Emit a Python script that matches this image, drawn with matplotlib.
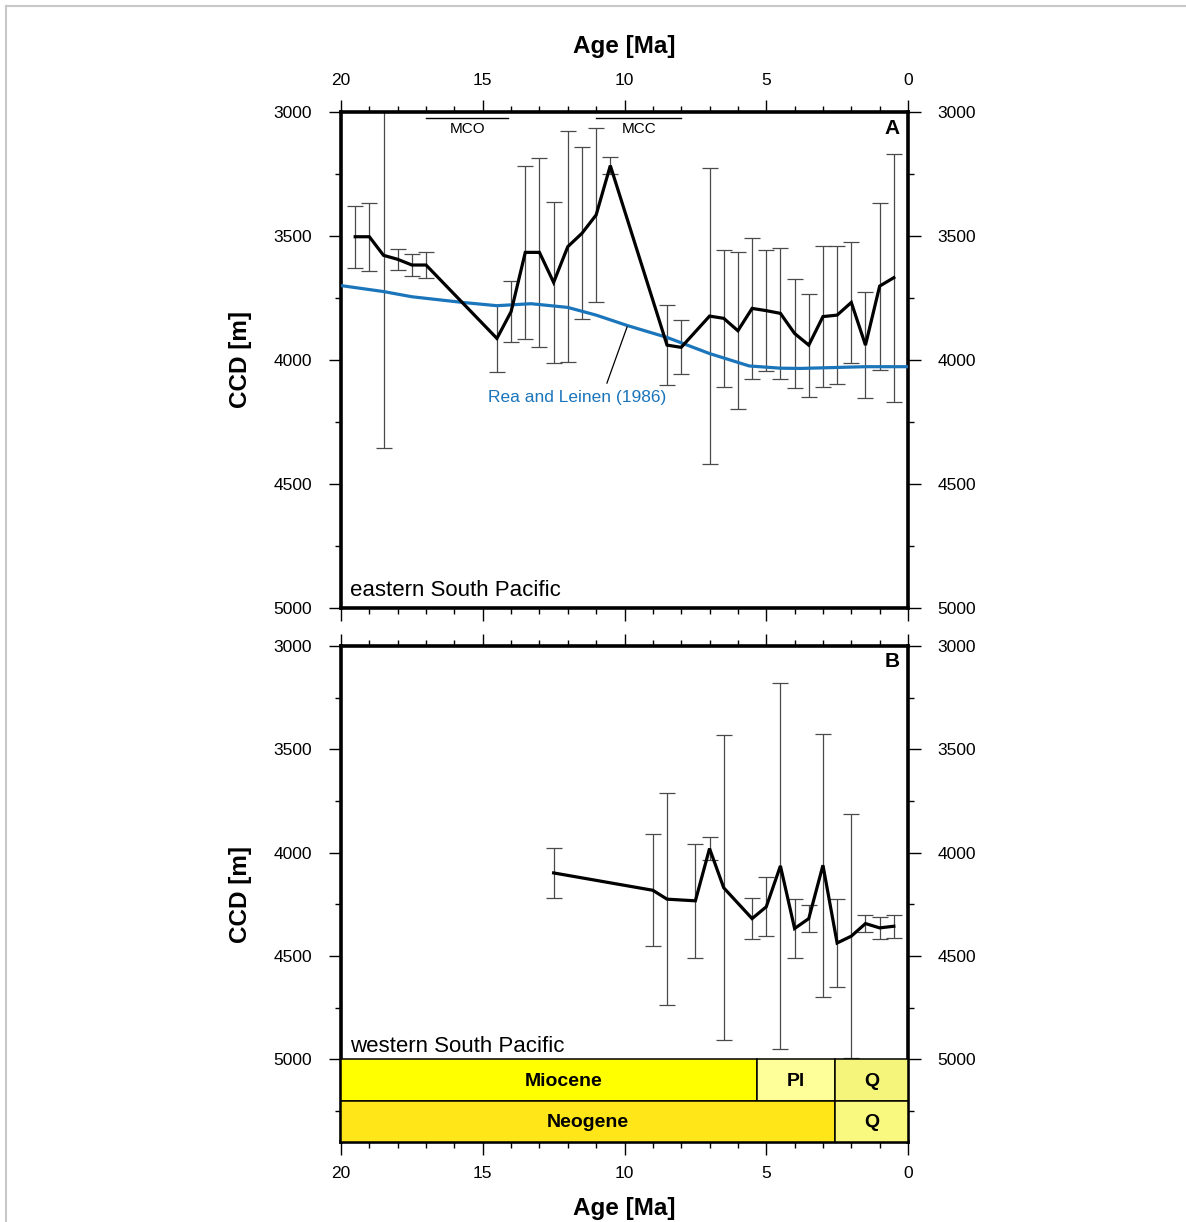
import matplotlib
matplotlib.use("Agg")
import matplotlib.pyplot as plt
from matplotlib.ticker import FixedLocator, MultipleLocator
from matplotlib.patches import Rectangle
from matplotlib.lines import Line2D

plt.rcParams['font.family'] = ['Liberation Sans', 'DejaVu Sans']

# ---- eastern South Pacific CCD reconstruction ----
east_age = [19.5, 19.0, 18.5, 18.0, 17.5, 17.0, 14.5, 14.0, 13.5, 13.0, 12.5, 12.0,
            11.5, 11.0, 10.5, 8.5, 8.0, 7.0, 6.5, 6.0, 5.5, 5.0, 4.5, 4.0, 3.5, 3.0,
            2.5, 2.0, 1.5, 1.0, 0.5]
east_ccd = [3503, 3503, 3578, 3594, 3617, 3617, 3913, 3805, 3566, 3566, 3687, 3543,
            3489, 3415, 3216, 3940, 3949, 3823, 3832, 3882, 3792, 3801, 3812, 3893,
            3940, 3825, 3819, 3768, 3940, 3702, 3668]
east_err = [125, 137, 778, 42, 45, 54, 135, 122, 350, 381, 325, 467,
            347, 351, 33, 160, 109, 597, 276, 316, 283, 245, 265, 220,
            208, 284, 277, 245, 215, 337, 500]

# ---- Rea and Leinen (1986) reference curve ----
rl_age = [20.0, 18.5, 17.5, 15.7, 14.5, 13.3, 12.0, 11.0, 9.9, 8.5, 7.0, 5.6, 4.5, 3.8, 1.5, 0.0]
rl_ccd = [3700, 3724, 3745, 3768, 3781, 3773, 3788, 3819, 3861, 3909, 3974, 4024, 4033, 4034, 4027, 4027]

# ---- western South Pacific CCD reconstruction ----
west_age = [12.5, 9.0, 8.5, 7.5, 7.0, 6.5, 5.5, 5.0, 4.5, 4.0, 3.5, 3.0, 2.5, 2.0, 1.5, 1.0, 0.5]
west_ccd = [4098, 4182, 4225, 4233, 3980, 4170, 4319, 4262, 4064, 4367, 4319, 4061,
            4437, 4404, 4343, 4364, 4356]
west_err = [123, 270, 512, 275, 55, 738, 100, 143, 885, 141, 67, 637, 213, 590, 40, 52, 55]

# ---- climate events ----
event_names = ["MCO", "MCC"]
event_start = [17.0, 11.0]
event_end = [14.1, 8.0]

# ---- geological time scale (two rows) ----
epoch_names = ["Miocene", "Pl", "Q"]
epoch_old = [20.0, 5.333, 2.58]
epoch_young = [5.333, 2.58, 0.0]
epoch_label_age = [12.13, 3.96, 1.29]
epoch_colors = ["#FFFF00", "#FFFF99", "#F5F57C"]
period_names = ["Neogene", "Q"]
period_old = [20.0, 2.58]
period_young = [2.58, 0.0]
period_label_age = [11.29, 1.29]
period_colors = ["#FFE619", "#F9F97F"]

age_ticks = [20, 15, 10, 5, 0]
ccd_ticks = [3000, 3500, 4000, 4500, 5000]

W, H = 1186, 1222
fig = plt.figure(figsize=(W / 100, H / 100), dpi=100)

# thin grey frame along top and left edges
fig.add_artist(Line2D([6 / W, 1.0], [1 - 6 / H, 1 - 6 / H], transform=fig.transFigure,
                      color="#c8c8c8", lw=1.5))
fig.add_artist(Line2D([6 / W, 6 / W], [0.0, 1 - 6 / H], transform=fig.transFigure,
                      color="#c8c8c8", lw=1.5))

left = 341 / W
width = 567 / W
height = 496 / H
axA = fig.add_axes([left, 1 - 608 / H, width, height])
axB = fig.add_axes([left, 1 - 1142 / H, width, height])

BLUE = "#1b75bb"
ECOL = "#4a4a4a"


def style_axes(ax, ylim, top_labels, bottom_labels):
    ax.set_xlim(20, 0)
    ax.set_ylim(*ylim)
    ax.xaxis.set_major_locator(FixedLocator(age_ticks))
    ax.xaxis.set_minor_locator(MultipleLocator(1))
    ax.yaxis.set_major_locator(FixedLocator(ccd_ticks))
    ax.yaxis.set_minor_locator(MultipleLocator(250))
    for s in ax.spines.values():
        s.set_linewidth(2.6)
    ax.tick_params(which="both", direction="out", top=True, bottom=True, left=True, right=True,
                   labelleft=True, labelright=True, labeltop=top_labels, labelbottom=bottom_labels,
                   labelsize=12.5, width=1.0, colors="black")
    ax.tick_params(which="major", length=9)
    ax.tick_params(which="minor", length=4.5)
    ax.tick_params(axis="y", which="major", pad=12)
    ax.tick_params(axis="x", which="major", pad=8)
    ax.set_ylabel("CCD [m]", fontsize=17.5, fontweight="bold")
    ax.yaxis.set_label_coords(-(341 - 252) / 567, 0.5)


style_axes(axA, (5000, 3000), True, False)
style_axes(axB, (5400, 3000), False, True)

# ---- panel A ----
axA.errorbar(east_age, east_ccd, yerr=east_err, fmt="none", ecolor=ECOL, elinewidth=0.9,
             capsize=6, capthick=0.9, zorder=2)
axA.plot(rl_age, rl_ccd, color=BLUE, lw=2.3, zorder=3, solid_capstyle="butt")
axA.plot(east_age, east_ccd, color="black", lw=2.3, zorder=4, solid_joinstyle="miter")
axA.plot([10.62, 9.91], [4093, 3867], color="black", lw=0.9, zorder=4)
axA.text(11.67, 4150, "Rea and Leinen (1986)", color=BLUE, fontsize=12.5, ha="center", va="center")
for name, s, e in zip(event_names, event_start, event_end):
    axA.plot([s, e], [3025, 3025], color="black", lw=1.0)
    axA.text((s + e) / 2, 3068, name, fontsize=11, ha="center", va="center")
axA.text(0.56, 3065, "A", fontsize=15, fontweight="bold", ha="center", va="center")
axA.text(0.016, 0.036, "eastern South Pacific", transform=axA.transAxes, fontsize=16,
         ha="left", va="center")

# ---- panel B ----
axB.errorbar(west_age, west_ccd, yerr=west_err, fmt="none", ecolor=ECOL, elinewidth=0.9,
             capsize=6, capthick=0.9, zorder=2)
axB.plot(west_age, west_ccd, color="black", lw=2.3, zorder=4, solid_joinstyle="miter")
axB.text(0.56, 3077, "B", fontsize=15, fontweight="bold", ha="center", va="center")
axB.text(0.016, (1142 - 1046) / 496, "western South Pacific", transform=axB.transAxes,
         fontsize=16, ha="left", va="center")

# time scale rows
for name, o, y, lx, c in zip(epoch_names, epoch_old, epoch_young, epoch_label_age, epoch_colors):
    axB.add_patch(Rectangle((y, 5000), o - y, 200, facecolor=c, edgecolor="black", lw=1.1, zorder=5))
    axB.text(lx, 5105, name, fontsize=14, fontweight="bold", ha="center", va="center", zorder=6)
for name, o, y, lx, c in zip(period_names, period_old, period_young, period_label_age, period_colors):
    axB.add_patch(Rectangle((y, 5200), o - y, 200, facecolor=c, edgecolor="black", lw=1.1, zorder=5))
    axB.text(lx, 5305, name, fontsize=14, fontweight="bold", ha="center", va="center", zorder=6)

fig.text((341 + 908) / 2 / W, 1 - 46 / H, "Age [Ma]", fontsize=17.5, fontweight="bold",
         ha="center", va="center")
fig.text((341 + 908) / 2 / W, 1 - 1208 / H, "Age [Ma]", fontsize=17.5, fontweight="bold",
         ha="center", va="center")

fig.savefig("out.png", dpi=100)
